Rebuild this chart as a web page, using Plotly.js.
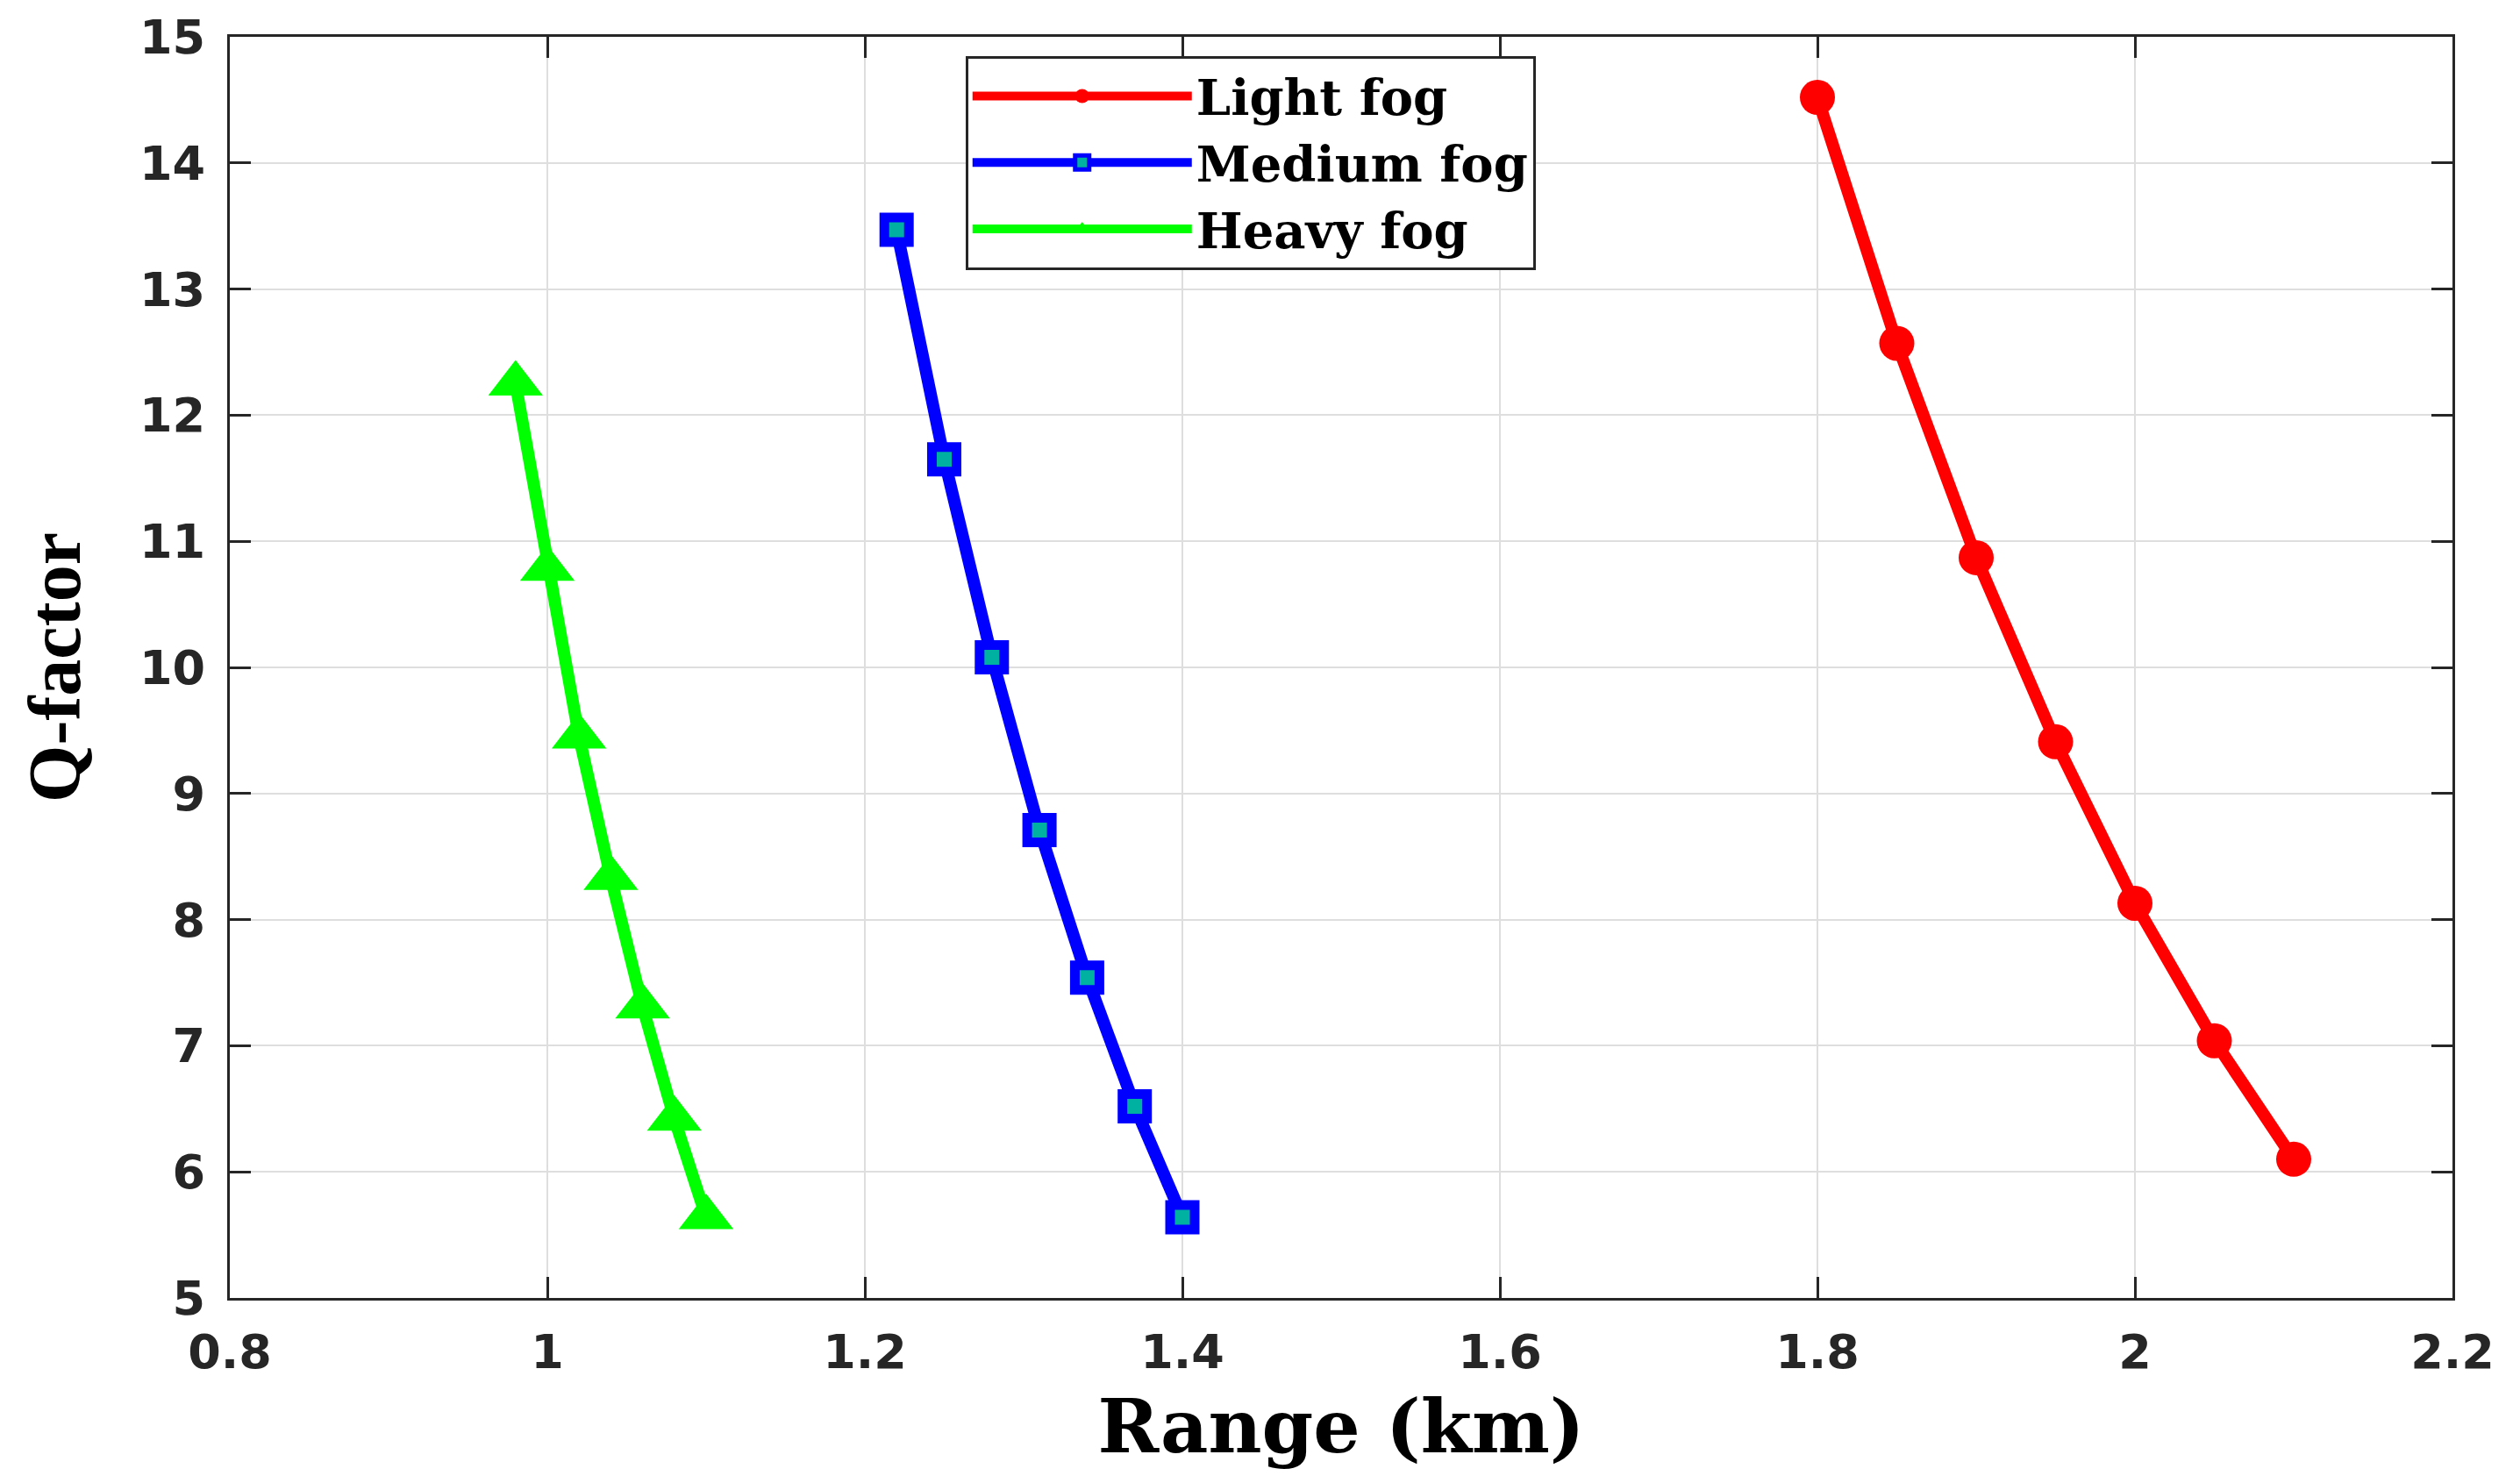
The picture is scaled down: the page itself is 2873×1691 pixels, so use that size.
<!DOCTYPE html>
<html>
<head>
<meta charset="utf-8">
<script src="https://cdn.plot.ly/plotly-3.0.1.min.js"></script>
<style>
  html, body { margin: 0; padding: 0; background: #fff; }
  #chart { width: 2873px; height: 1691px; }
</style>
</head>
<body>
<div id="chart"></div>
<script>
// values
var lightRange = [1.80, 1.85, 1.90, 1.95, 2.00, 2.05, 2.10];
var lightQ = [14.52, 12.57, 10.87, 9.41, 8.13, 7.04, 6.10];

var mediumRange = [1.22, 1.25, 1.28, 1.31, 1.34, 1.37, 1.40];
var mediumQ = [13.47, 11.65, 10.08, 8.71, 7.54, 6.52, 5.64];

var heavyRange = [0.98, 1.00, 1.02, 1.04, 1.06, 1.08, 1.10];
var heavyQ = [12.25, 10.78, 9.45, 8.33, 7.31, 6.42, 5.64];

var xTicks = [0.8, 1, 1.2, 1.4, 1.6, 1.8, 2, 2.2];
var yTicks = [5, 6, 7, 8, 9, 10, 11, 12, 13, 14, 15];

var traces = [
    {
        x: lightRange, y: lightQ, name: "Light fog",
        mode: "lines+markers",
        line: {color: "#ff0000", width: 14},
        marker: {symbol: "circle", color: "#ff0000", size: 40}
    },
    {
        x: mediumRange, y: mediumQ, name: "Medium fog",
        mode: "lines+markers",
        line: {color: "#0000ff", width: 14},
        marker: {symbol: "square", color: "#00b0a0", size: 28,
                 line: {color: "#0000ff", width: 11}}
    },
    {
        x: heavyRange, y: heavyQ, name: "Heavy fog",
        mode: "lines+markers",
        line: {color: "#00ff00", width: 14},
        marker: {symbol: "triangle-up", color: "#00ff00", size: 54}
    }
];

var tickFont = {family: "DejaVu Sans, Arial, sans-serif", size: 54, weight: "bold", color: "#262626"};
var serif = "DejaVu Serif, Times New Roman, serif";

var layout = {
    width: 2873,
    height: 1691,
    margin: {l: 262, r: 77, t: 42, b: 211},
    paper_bgcolor: "#fff",
    plot_bgcolor: "#fff",
    showlegend: true,
    legend: {
        x: 0.331, y: 0.985, xanchor: "left", yanchor: "top",
        bgcolor: "#fff", bordercolor: "#262626", borderwidth: 3,
        font: {family: serif, size: 56, weight: "bold", color: "#000"},
        itemwidth: 250,
        tracegroupgap: 0
    },
    xaxis: {
        range: [0.8, 2.2],
        tickvals: xTicks,
        ticktext: xTicks.map(String),
        ticks: "inside", ticklen: 24, tickwidth: 3, tickcolor: "#262626",
        ticklabelstandoff: 12,
        showline: true, linecolor: "#262626", linewidth: 3, mirror: "ticks",
        showgrid: true, gridcolor: "#dedede", gridwidth: 2,
        zeroline: false,
        tickfont: tickFont,
        title: {text: "Range (km)", font: {family: serif, size: 84, weight: "bold", color: "#000"}, standoff: 26}
    },
    yaxis: {
        range: [5, 15],
        tickvals: yTicks,
        ticktext: yTicks.map(String),
        ticks: "inside", ticklen: 24, tickwidth: 3, tickcolor: "#262626",
        ticklabelstandoff: 14,
        showline: true, linecolor: "#262626", linewidth: 3, mirror: "ticks",
        showgrid: true, gridcolor: "#dedede", gridwidth: 2,
        zeroline: false,
        tickfont: tickFont,
        title: {text: "Q-factor", font: {family: "Liberation Serif, Times New Roman, serif", size: 84, weight: "bold", color: "#000"}, standoff: 40}
    }
};

Plotly.newPlot("chart", traces, layout, {displayModeBar: false, staticPlot: true});
</script>
</body>
</html>
